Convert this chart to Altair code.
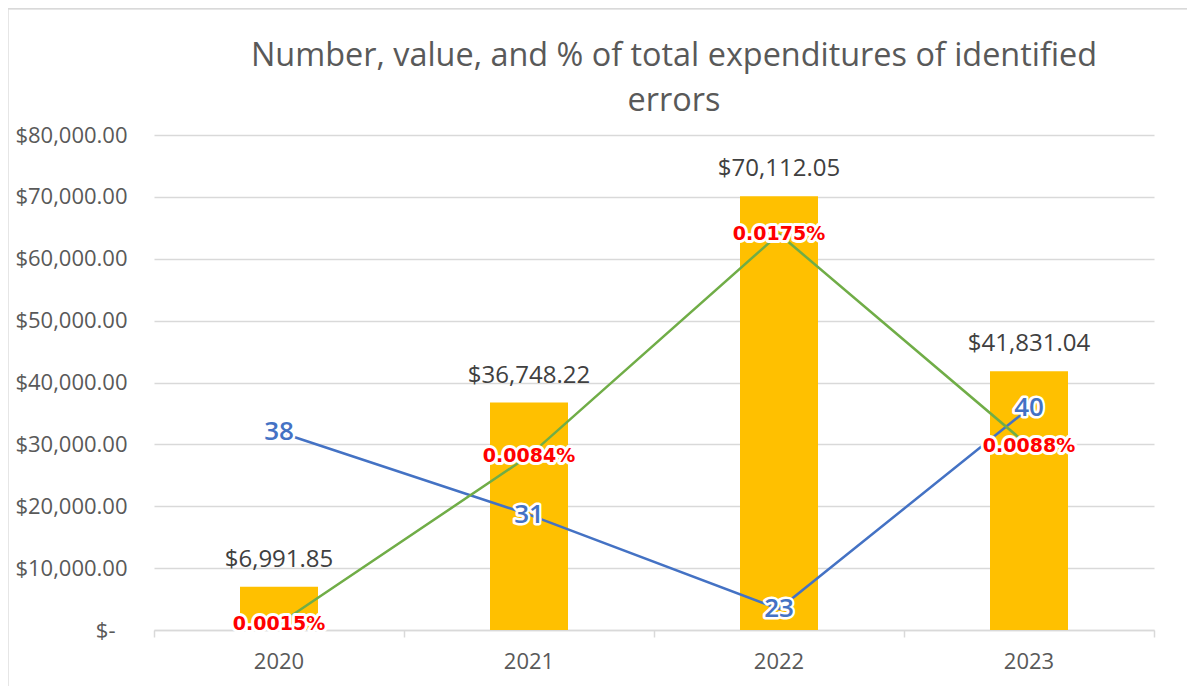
import altair as alt
import pandas as pd

years = ["2020", "2021", "2022", "2023"]
values = [6991.85, 36748.22, 70112.05, 41831.04]
counts = [38, 31, 23, 40]
pcts = [0.0015, 0.0084, 0.0175, 0.0088]  # in percent units
money_ticks = [0, 10000, 20000, 30000, 40000, 50000, 60000, 70000, 80000]

df = pd.DataFrame({"year": years, "value": values, "count": counts, "pct": pcts})

FONT = "Open Sans"
GRAY = "#595959"

xenc = alt.X(
    "year:N",
    sort=years,
    scale=alt.Scale(paddingInner=0, paddingOuter=0),
    axis=alt.Axis(
        title="",
        labelFont=FONT,
        labelFontSize=22,
        labelColor=GRAY,
        labelAngle=0,
        labelPadding=14,
        domainColor="#D9D9D9",
        domainWidth=1.5,
        tickColor="#D9D9D9",
        tickWidth=1.5,
        tickSize=7,
        bandPosition=1,
        tickExtra=True,
    ),
)

money_scale = alt.Scale(domain=[0, 80000], nice=False, zero=False)
count_scale = alt.Scale(domain=[21.22, 63.17], nice=False, zero=False)
pct_scale = alt.Scale(domain=[0.001254, 0.021562], nice=False, zero=False)

yenc = alt.Y(
    "value:Q",
    scale=money_scale,
    axis=alt.Axis(
        title="",
        values=money_ticks,
        labelExpr="datum.value == 0 ? '$-' : format(datum.value, '$,.2f')",
        labelFont=FONT,
        labelFontSize=22,
        labelColor=GRAY,
        labelPadding={"condition": {"test": "datum.value == 0", "value": 39}, "value": 27},
        ticks=False,
        domain=False,
        gridColor="#D9D9D9",
        gridWidth=1.5,
    ),
)

base = alt.Chart(df)

bars = base.mark_bar(color="#FFC000", size=78).encode(x=xenc, y=yenc)

bar_labels = base.mark_text(
    font=FONT, fontSize=24, color="#404040", baseline="alphabetic", dy=-20
).encode(x=xenc, y=yenc, text=alt.Text("value:Q", format="$,.2f"))

money = alt.layer(bars, bar_labels)

ycount = alt.Y("count:Q", scale=count_scale, axis=None)
count_line = base.mark_line(color="#4472C4", strokeWidth=2.5).encode(x=xenc, y=ycount)
count_halo = base.mark_text(
    font=FONT, fontSize=26, fontWeight=600, baseline="middle",
    stroke="white", strokeWidth=5, fill="white", strokeJoin="round",
).encode(x=xenc, y=ycount, text="count:Q")
count_text = base.mark_text(
    font=FONT, fontSize=26, fontWeight=600, baseline="middle", color="#4472C4"
).encode(x=xenc, y=ycount, text="count:Q")
count_layer = alt.layer(count_line, count_halo, count_text)

ypct = alt.Y("pct:Q", scale=pct_scale, axis=None)
pct_base = base.transform_calculate(lbl="format(datum.pct, '.4f') + '%'")
pct_line = base.mark_line(color="#70AD47", strokeWidth=2.5).encode(x=xenc, y=ypct)
pct_halo = pct_base.mark_text(
    font="DejaVu Sans", fontSize=19, fontWeight="bold", baseline="middle",
    stroke="white", strokeWidth=6, fill="white", strokeJoin="round",
).encode(x=xenc, y=ypct, text="lbl:N")
pct_text = pct_base.mark_text(
    font="DejaVu Sans", fontSize=19, fontWeight="bold", baseline="middle", color="#FF0000"
).encode(x=xenc, y=ypct, text="lbl:N")
pct_layer = alt.layer(pct_line, pct_halo, pct_text)

border_left = base.mark_rule(color="#D9D9D9", strokeWidth=1.5).encode(
    x=alt.value(-146.5), y=alt.value(-126.5), y2=alt.value(600)
)
border_top = base.mark_rule(color="#D9D9D9", strokeWidth=1.5).encode(
    x=alt.value(-146.5), x2=alt.value(1100), y=alt.value(-126.5)
)

chart = (
    alt.layer(money, count_layer, pct_layer, border_left, border_top)
    .resolve_scale(y="independent")
    .properties(
        width=1000,
        height=495,
        padding={"left": 146, "top": 127, "right": 33, "bottom": 56},
        autosize=alt.AutoSizeParams(type="none"),
        background="white",
        title=alt.TitleParams(
            ["Number, value, and % of total expenditures of identified", "errors"],
            font=FONT,
            fontSize=32.4,
            fontWeight="normal",
            color=GRAY,
            anchor="middle",
            lineHeight=45,
            offset=0,
            dy=110,
            dx=20,
        ),
    )
    .configure_view(strokeWidth=0)
)

chart.save("out.html", embed_options={"renderer": "svg", "actions": False})
